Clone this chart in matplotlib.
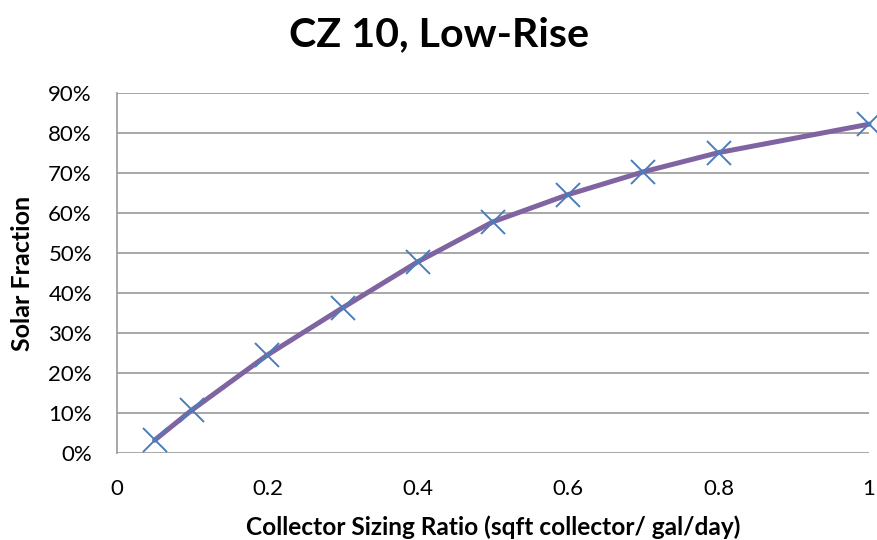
import matplotlib
matplotlib.use("Agg")
import matplotlib.pyplot as plt
from matplotlib.ticker import PercentFormatter

# data
ratio = [0.05, 0.1, 0.2, 0.3, 0.4, 0.5, 0.6, 0.7, 0.8, 1.0]
solar_fraction = [3.2, 10.8, 24.5, 36.3, 47.8, 57.8, 64.6, 70.3, 75.1, 82.2]

title = "CZ 10, Low-Rise"
xlabel = "Collector Sizing Ratio (sqft collector/ gal/day)"
ylabel = "Solar Fraction"

plt.rcParams['font.family'] = ['Lato', 'DejaVu Sans']

fig = plt.figure(figsize=(8.78, 5.4), dpi=100)
ax = fig.add_axes([117/878, 87/540, 752/878, 360/540])

ax.plot(ratio, solar_fraction, color='#8064A2', lw=3.6, zorder=3, clip_on=False,
        solid_capstyle='round')
ax.plot(ratio, solar_fraction, ls='none', marker='x', ms=17, mew=1.4,
        color='#4A7EBB', zorder=4, clip_on=False)

ax.set_xlim(0, 1)
ax.set_ylim(0, 90)
ax.set_xticks([0, 0.2, 0.4, 0.6, 0.8, 1])
ax.set_xticklabels(['0', '0.2', '0.4', '0.6', '0.8', '1'])
ax.set_yticks(range(0, 91, 10))
ax.yaxis.set_major_formatter(PercentFormatter(decimals=0))
ax.tick_params(length=0, labelsize=16, colors='#000000')
ax.tick_params(axis='y', pad=18)
ax.tick_params(axis='x', pad=19)

ax.grid(axis='y', color='#A0A0A0', lw=1.3)
ax.set_axisbelow(True)
for s in ['top', 'right', 'bottom']:
    ax.spines[s].set_visible(False)
ax.spines['left'].set_color('#A0A0A0')
ax.spines['left'].set_linewidth(1.3)

ax.set_xlabel(xlabel, fontsize=17.6, fontweight='bold')
ax.set_ylabel(ylabel, fontsize=18, fontweight='bold')
ax.xaxis.set_label_coords(0.5, -0.2056)
ax.yaxis.set_label_coords(-0.125, 0.5)
for lab in (ax.xaxis.label, ax.yaxis.label):
    lab.set_va('center')
fig.text(0.5, 1 - 35/540, title, ha='center', va='center', fontsize=29.6, fontweight='bold')

fig.savefig("out.png", dpi=100)
